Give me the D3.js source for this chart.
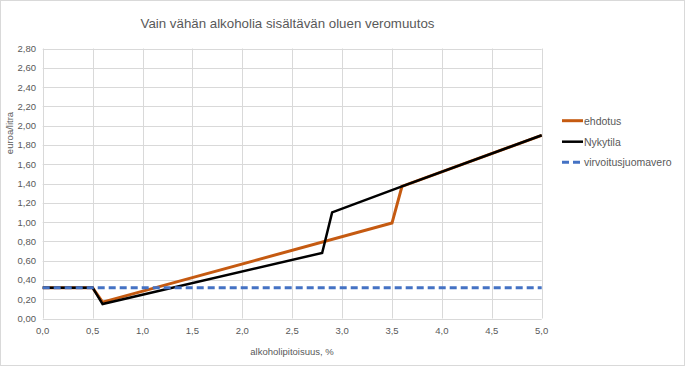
<!DOCTYPE html>
<html><head><meta charset="utf-8">
<script src="https://cdn.jsdelivr.net/npm/d3@7"></script>
<style>body{margin:0;background:#fff}svg{display:block;font-family:"Liberation Sans",Arial,sans-serif}</style>
</head><body><svg id="c" width="685" height="367"></svg>
<script>
const title = "Vain vähän alkoholia sisältävän oluen veromuutos";
const xTitle = "alkoholipitoisuus, %";
const yTitle = "euroa/litra";
const xTicks = [0,0.5,1,1.5,2,2.5,3,3.5,4,4.5,5];
const yTicks = [0,0.2,0.4,0.6,0.8,1.0,1.2,1.4,1.6,1.8,2.0,2.2,2.4,2.6,2.8];
const ehdotusX = [0, 0.5, 0.6, 3.5, 3.6, 5.0];
const ehdotusY = [0.32, 0.32, 0.17, 0.99, 1.37, 1.90];
const nykyX = [0, 0.5, 0.6, 2.8, 2.9, 3.6, 5.0];
const nykyY = [0.32, 0.32, 0.15, 0.68, 1.10, 1.37, 1.90];
const virvX = [0, 5.0];
const virvY = [0.32, 0.32];
const seriesNames = ["ehdotus", "Nykytila", "virvoitusjuomavero"];
const colors = ["#C55A11", "#000000", "#4472C4"];

const svg = d3.select("#c");
const fmt = d3.format(".1f"), fmt2 = d3.format(".2f");
const comma = s => s.replace(".", ",");
const x = d3.scaleLinear().domain([0,5]).range([42.7,541.7]);
const y = d3.scaleLinear().domain([0,2.8]).range([318.5,48.5]);

svg.append("rect").attr("x",0.5).attr("y",0.5).attr("width",684).attr("height",365)
  .attr("fill","#fff").attr("stroke","#D9D9D9");

// gridlines
svg.append("g").selectAll("line").data(yTicks).join("line")
  .attr("x1",x(0)).attr("x2",x(5)).attr("y1",d=>Math.round(y(d))+0.5).attr("y2",d=>Math.round(y(d))+0.5)
  .attr("stroke","#D9D9D9").attr("stroke-width",1);
svg.append("g").selectAll("line").data(xTicks).join("line")
  .attr("y1",y(0)).attr("y2",y(2.8)).attr("x1",d=>Math.round(x(d))+0.5).attr("x2",d=>Math.round(x(d))+0.5)
  .attr("stroke","#D9D9D9").attr("stroke-width",1);

// tick labels
svg.append("g").selectAll("text").data(yTicks).join("text")
  .attr("x",36).attr("y",d=>y(d)+3.5).attr("text-anchor","end")
  .attr("font-size",9.5).attr("fill","#595959").text(d=>comma(fmt2(d)));
svg.append("g").selectAll("text").data(xTicks).join("text")
  .attr("x",d=>x(d)).attr("y",334).attr("text-anchor","middle")
  .attr("font-size",9.5).attr("fill","#595959").text(d=>comma(fmt(d)));

// titles
svg.append("text").attr("x",287.5).attr("y",28).attr("text-anchor","middle")
  .attr("font-size",13.3).attr("fill","#595959").text(title);
svg.append("text").attr("x",292).attr("y",355).attr("text-anchor","middle")
  .attr("font-size",9.5).attr("fill","#595959").text(xTitle);
svg.append("text").attr("transform","translate(13,133) rotate(-90)").attr("text-anchor","middle")
  .attr("font-size",9.5).attr("fill","#595959").text(yTitle);

const line = d3.line().x(d=>x(d[0])).y(d=>y(d[1]));
const data = [d3.zip(ehdotusX, ehdotusY), d3.zip(nykyX, nykyY), d3.zip(virvX, virvY)];
const widths = [3, 2.5, 3];
const dashes = [null, null, "7,4"];
data.forEach((d,i)=>{
  svg.append("path").datum(d).attr("d",line).attr("fill","none")
    .attr("stroke",colors[i]).attr("stroke-width",widths[i])
    .attr("stroke-dasharray",dashes[i]).attr("stroke-linejoin","miter");
});

// legend
const lg = svg.append("g");
const ly = [120.7, 141.7, 162.3];
seriesNames.forEach((n,i)=>{
  lg.append("line").attr("x1",562).attr("x2",583).attr("y1",ly[i]).attr("y2",ly[i])
    .attr("stroke",colors[i]).attr("stroke-width",widths[i]).attr("stroke-dasharray",i===2?"7,4":null);
  lg.append("text").attr("x",584).attr("y",ly[i]+4).attr("font-size",10.5).attr("fill","#595959").text(n);
});
</script></body></html>
